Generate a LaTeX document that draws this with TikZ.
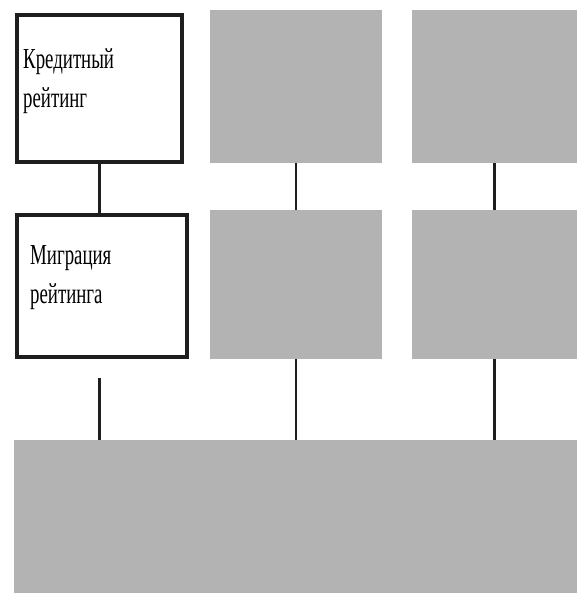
\documentclass[tikz,border=0pt]{standalone}
\usepackage{fontspec}
\newfontfamily\boxfont[FakeStretch=0.65]{Liberation Serif}
\usetikzlibrary{positioning}
\definecolor{boxgray}{RGB}{179,179,179}
\definecolor{linedark}{RGB}{30,30,30}

\begin{document}
\begin{tikzpicture}[x=1pt, y=-1pt,
    whitebox/.style={rectangle, draw=linedark, line width=4pt, fill=white, anchor=north west, inner sep=0pt},
    graybox/.style={rectangle, fill=boxgray, anchor=north west, inner sep=0pt},
    boxtext/.style={anchor=north west, inner sep=0pt, align=left, font=\boxfont\fontsize{29}{39}\selectfont},
    link/.style={draw=linedark, line width=2.5pt}
]
    \useasboundingbox (0,0) rectangle (577,598);

    \node[whitebox, minimum width=165pt, minimum height=147pt] (kred) at (15,13) {};
    \node[whitebox, minimum width=170pt, minimum height=142pt] (migr) at (15,213) {};
    \node[boxtext] (kredtxt) at (23,48) {Кредитный\\рейтинг};
    \node[boxtext] (migrtxt) at (30,245) {Миграция\\рейтинга};

    \node[graybox, minimum width=172pt, minimum height=153pt] (g11) at (210,10) {};
    \node[graybox, minimum width=165pt, minimum height=153pt] (g12) at (412,10) {};
    \node[graybox, minimum width=172pt, minimum height=149pt] (g21) at (210,210) {};
    \node[graybox, minimum width=165pt, minimum height=149pt] (g22) at (412,210) {};
    \node[graybox, minimum width=563pt, minimum height=153pt] (base) at (14,440) {};

    \draw[link] (kred.south) -- (kred.south |- migr.north);
    \draw[link] (g11) -- (g21);
    \draw[link] (g12) -- (g22);
    \draw[link, shorten <=19pt] (kred.south |- migr.south) -- (kred.south |- base.north);
    \draw[link] (g21) -- (g21 |- base.north);
    \draw[link] (g22) -- (g22 |- base.north);
\end{tikzpicture}
\end{document}
